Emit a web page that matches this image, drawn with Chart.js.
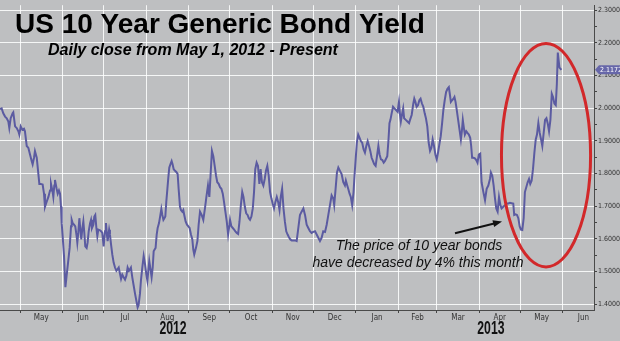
<!DOCTYPE html>
<html>
<head>
<meta charset="utf-8">
<title>US 10 Year Generic Bond Yield</title>
<script src="https://cdn.jsdelivr.net/npm/chart.js@4.4.0/dist/chart.umd.min.js"></script>
<style>
  html, body { margin: 0; padding: 0; background: #bebfc1; }
  canvas { display: block; }
</style>
</head>
<body>
<canvas id="yieldChart" width="620" height="341"></canvas>
<script>
// Calendar days counted from 1 May 2012 (negative = late April)
const dayOffsets = [
  -14.6, -13.4, -12.2, -10.9, -9.7, -8.5, -7.8, -6.8, -5.4, -4.9,
  -3.6, -2.4, -1.2, -0.5, 0.5, 1.7, 2.9, 3.6, 4.9, 6.1,
  7.3, 8.5, 9.2, 10.2, 10.9, 12.2, 13.4, 14.1, 15.1, 16.5,
  17.5, 18.2, 19.4, 20.7, 21.9, 22.6, 23.6, 24.3, 25.0, 25.5,
  26.7, 27.5, 28.4, 29.2, 29.9, 30.4, 31.1, 32.1, 33.1, 34.0,
  35.3, 36.2, 37.2, 37.7, 38.4, 39.4, 40.3, 41.3, 41.8, 42.5,
  43.3, 44.0, 44.7, 45.5, 46.2, 46.9, 47.6, 48.6, 49.3, 50.1,
  51.1, 51.8, 52.5, 53.5, 54.2, 54.9, 55.7, 56.4, 57.1, 58.4,
  59.1, 60.0, 61.0, 62.0, 62.7, 63.5, 63.9, 65.0, 65.6, 66.4,
  67.3, 68.3, 69.3, 70.3, 71.2, 72.0, 72.7, 73.7, 74.6, 75.6,
  76.6, 77.6, 78.5, 79.5, 80.2, 80.9, 81.9, 82.9, 83.9, 84.8,
  85.8, 86.5, 87.5, 88.2, 89.2, 90.2, 91.2, 92.1, 92.9, 93.6,
  94.3, 95.0, 96.0, 96.8, 97.5, 98.2, 98.9, 99.7, 100.4, 101.4,
  102.4, 103.1, 103.8, 104.6, 105.3, 106.0, 106.7, 107.5, 108.2, 108.9,
  109.7, 110.6, 111.3, 112.1, 113.1, 114.3, 115.0, 115.7, 116.7, 117.4,
  118.4, 119.1, 119.8, 120.8, 121.8, 122.8, 123.7, 124.7, 125.7, 126.4,
  127.1, 128.4, 129.4, 130.3, 131.3, 132.5, 133.7, 134.9, 136.1, 137.1,
  138.1, 139.1, 140.0, 141.0, 142.0, 143.0, 143.9, 144.9, 145.9, 146.9,
  147.9, 148.8, 149.8, 150.8, 151.8, 152.8, 153.2, 154.2, 155.2, 156.2,
  157.1, 158.1, 159.1, 160.1, 161.1, 162.1, 163.0, 164.0, 165.0, 166.0,
  166.9, 167.8, 168.8, 169.8, 170.7, 171.6, 172.6, 173.6, 174.6, 175.5,
  176.5, 177.5, 178.5, 179.4, 180.4, 181.4, 182.4, 183.4, 184.3, 185.3,
  186.3, 187.3, 188.3, 189.3, 190.2, 191.2, 192.2, 193.2, 194.2, 195.2,
  196.2, 197.2, 198.2, 199.4, 200.6, 201.8, 203.0, 204.2, 205.4, 206.7,
  207.9, 209.1, 210.3, 211.5, 212.7, 213.9, 215.2, 216.4, 217.6, 218.8,
  220.0, 221.2, 222.5, 223.7, 224.9, 226.1, 227.3, 228.5, 229.2, 230.2,
  231.2, 232.2, 233.4, 234.6, 235.8, 237.0, 237.7, 238.7, 239.4, 240.4,
  241.3, 242.3, 243.3, 244.0, 245.0, 245.7, 246.7, 247.7, 248.6, 249.6,
  250.6, 251.6, 252.6, 253.6, 254.6, 255.5, 256.5, 257.5, 258.4, 259.4,
  260.4, 261.4, 262.3, 263.3, 264.3, 265.3, 266.2, 267.9, 268.8, 269.5,
  270.2, 271.1, 272.1, 273.1, 274.3, 275.4, 276.4, 277.1, 277.8, 278.8,
  279.5, 280.2, 281.4, 282.6, 283.8, 284.5, 285.7, 286.9, 287.6, 288.4,
  289.3, 290.3, 291.3, 292.2, 293.2, 294.2, 295.2, 296.1, 297.1, 298.1,
  299.1, 300.1, 301.0, 302.0, 303.0, 304.0, 304.9, 305.9, 306.9, 307.9,
  308.8, 309.8, 310.8, 311.8, 312.8, 313.5, 314.3, 315.2, 316.2, 316.9,
  317.7, 318.6, 319.6, 320.6, 321.6, 322.3, 323.0, 323.8, 324.5, 325.5,
  326.4, 327.4, 328.4, 329.1, 329.8, 330.8, 331.8, 332.8, 333.7, 334.7,
  335.7, 336.7, 338.0, 339.2, 340.4, 341.6, 342.8, 343.5, 344.5, 345.5,
  346.5, 347.4, 348.4, 349.4, 350.4, 351.3, 352.5, 353.8, 355.0, 356.2,
  357.4, 358.6, 359.8, 360.5, 361.5, 362.5, 363.5, 364.5, 365.4, 366.4,
  367.4, 368.3, 369.3, 370.3, 371.3, 372.2, 373.2, 374.2, 375.2, 376.2,
  377.1, 378.1, 379.1, 380.1, 381.0, 382.0, 383.0, 384.0, 384.9, 385.9,
  386.9, 387.9, 388.8, 389.8, 390.8, 391.6, 392.3, 392.8, 393.5, 394.2,
  394.9
];

// Daily close, percent
const yields = [
  1.997, 1.999, 1.984, 1.974, 1.969, 1.959, 1.939, 1.969, 1.984, 1.987,
  1.944, 1.939, 1.929, 1.919, 1.944, 1.934, 1.937, 1.929, 1.884, 1.878,
  1.858, 1.838, 1.828, 1.848, 1.868, 1.848, 1.798, 1.768, 1.768, 1.766,
  1.738, 1.698, 1.713, 1.728, 1.748, 1.768, 1.748, 1.728, 1.763, 1.780,
  1.753, 1.738, 1.748, 1.738, 1.698, 1.648, 1.608, 1.547, 1.452, 1.487,
  1.537, 1.572, 1.638, 1.658, 1.648, 1.643, 1.638, 1.608, 1.588, 1.618,
  1.663, 1.628, 1.598, 1.633, 1.653, 1.618, 1.577, 1.572, 1.588, 1.623,
  1.648, 1.658, 1.633, 1.643, 1.668, 1.673, 1.633, 1.608, 1.628, 1.626,
  1.623, 1.618, 1.577, 1.623, 1.648, 1.608, 1.593, 1.628, 1.613, 1.583,
  1.552, 1.527, 1.512, 1.502, 1.507, 1.512, 1.497, 1.477, 1.490, 1.482,
  1.475, 1.487, 1.512, 1.502, 1.507, 1.512, 1.482, 1.457, 1.432, 1.412,
  1.390, 1.397, 1.432, 1.472, 1.512, 1.547, 1.522, 1.492, 1.472, 1.502,
  1.532, 1.512, 1.482, 1.512, 1.562, 1.567, 1.572, 1.613, 1.633, 1.648,
  1.673, 1.691, 1.673, 1.658, 1.663, 1.668, 1.713, 1.753, 1.788, 1.818,
  1.828, 1.838, 1.828, 1.813, 1.808, 1.803, 1.798, 1.753, 1.698, 1.688,
  1.683, 1.688, 1.673, 1.653, 1.643, 1.638, 1.633, 1.613, 1.598, 1.567,
  1.552, 1.573, 1.593, 1.643, 1.683, 1.673, 1.658, 1.693, 1.733, 1.763,
  1.728, 1.803, 1.869, 1.853, 1.823, 1.793, 1.773, 1.768, 1.758, 1.753,
  1.738, 1.713, 1.683, 1.653, 1.613, 1.643, 1.658, 1.638, 1.633, 1.628,
  1.623, 1.618, 1.615, 1.653, 1.703, 1.743, 1.728, 1.698, 1.678, 1.673,
  1.663, 1.658, 1.668, 1.693, 1.743, 1.813, 1.833, 1.823, 1.768, 1.813,
  1.773, 1.763, 1.783, 1.808, 1.823, 1.793, 1.743, 1.723, 1.708, 1.693,
  1.713, 1.728, 1.713, 1.688, 1.728, 1.753, 1.693, 1.653, 1.623, 1.613,
  1.605, 1.598, 1.595, 1.595, 1.595, 1.593, 1.633, 1.673, 1.683, 1.693,
  1.673, 1.643, 1.633, 1.623, 1.618, 1.621, 1.623, 1.613, 1.603, 1.593,
  1.603, 1.623, 1.621, 1.643, 1.673, 1.703, 1.733, 1.723, 1.703, 1.753,
  1.803, 1.818, 1.808, 1.798, 1.773, 1.763, 1.778, 1.763, 1.753, 1.738,
  1.728, 1.703, 1.743, 1.793, 1.853, 1.894, 1.919, 1.909, 1.899, 1.894,
  1.874, 1.864, 1.884, 1.899, 1.884, 1.869, 1.848, 1.838, 1.828, 1.823,
  1.853, 1.884, 1.858, 1.843, 1.841, 1.833, 1.838, 1.853, 1.904, 1.954,
  1.964, 1.984, 2.004, 1.999, 1.994, 1.989, 2.019, 1.984, 1.959, 1.984,
  1.999, 1.969, 1.964, 1.959, 1.954, 1.964, 1.979, 2.014, 2.029, 2.019,
  2.004, 2.009, 2.024, 2.029, 2.014, 2.004, 1.984, 1.969, 1.944, 1.894,
  1.869, 1.879, 1.904, 1.884, 1.858, 1.843, 1.863, 1.889, 1.914, 1.954,
  1.994, 2.024, 2.049, 2.059, 2.064, 2.044, 2.019, 2.024, 2.029, 2.034,
  2.019, 1.994, 1.964, 1.934, 1.904, 1.929, 1.964, 1.939, 1.919, 1.929,
  1.924, 1.919, 1.909, 1.884, 1.848, 1.848, 1.846, 1.841, 1.833, 1.858,
  1.861, 1.773, 1.743, 1.718, 1.753, 1.763, 1.783, 1.803, 1.793, 1.763,
  1.723, 1.693, 1.683, 1.728, 1.703, 1.693, 1.698, 1.703, 1.708, 1.708,
  1.710, 1.709, 1.708, 1.673, 1.675, 1.673, 1.663, 1.638, 1.628, 1.627,
  1.663, 1.743, 1.758, 1.773, 1.783, 1.768, 1.778, 1.813, 1.863, 1.904,
  1.919, 1.954, 1.924, 1.904, 1.884, 1.924, 1.964, 1.969, 1.954, 1.929,
  1.964, 2.044, 2.034, 2.014, 2.009, 2.074, 2.170, 2.150, 2.124, 2.121,
  2.1172
];

// Month boundaries (grid lines) and mid-month label positions, same day units
const monthStarts = [0, 31, 61, 92, 123, 153, 184, 214, 245, 276, 304, 335, 365, 396];
const monthMids = [15.5, 46, 76.5, 107.5, 138, 168.5, 199, 229.5, 260.5, 290, 319.5, 350, 380.5, 411];
const monthNames = ['May', 'Jun', 'Jul', 'Aug', 'Sep', 'Oct', 'Nov', 'Dec', 'Jan', 'Feb', 'Mar', 'Apr', 'May', 'Jun'];

const yearLabels = ['2012', '2013'];
const yearCenters = [111.6, 343.5];

const yTickValues = [1.4, 1.5, 1.6, 1.7, 1.8, 1.9, 2.0, 2.1, 2.2, 2.3];

const lastYield = yields[yields.length - 1];

const isMajorY = v => Math.round(v * 100) % 10 === 0;
const isMonthStart = v => monthStarts.includes(v);

const narrowFont = "'Liberation Sans Narrow', 'DejaVu Sans Condensed', 'Liberation Sans', sans-serif";
const mainFont = "'Liberation Sans', Arial, sans-serif";

// Grey panel behind everything
const backgroundPlugin = {
  id: 'panelBackground',
  beforeDraw(chart) {
    const ctx = chart.ctx;
    ctx.save();
    ctx.fillStyle = '#bebfc1';
    ctx.fillRect(0, 0, chart.width, chart.height);
    ctx.restore();
  }
};

// Titles, year labels, annotation, highlight ellipse and last value tag
const overlayPlugin = {
  id: 'overlay',
  afterDraw(chart) {
    const { ctx, chartArea } = chart;
    const xs = chart.scales.x;
    const ys = chart.scales.y;
    ctx.save();

    ctx.fillStyle = '#000';
    ctx.textAlign = 'left';
    ctx.textBaseline = 'alphabetic';
    ctx.font = 'bold 28px ' + mainFont;
    ctx.fillText('US 10 Year Generic Bond Yield', 15, 33);
    ctx.font = 'italic bold 16px ' + mainFont;
    ctx.fillText('Daily close from May 1, 2012 - Present', 48, 55);

    // year labels under the month row
    ctx.fillStyle = '#111';
    ctx.font = 'bold 18px ' + mainFont;
    ctx.textAlign = 'center';
    yearLabels.forEach((label, i) => {
      ctx.save();
      ctx.translate(xs.getPixelForValue(yearCenters[i]), 333.5);
      ctx.scale(0.68, 1);
      ctx.fillText(label, 0, 0);
      ctx.restore();
    });

    // annotation text
    ctx.fillStyle = '#111';
    ctx.font = 'italic 14px ' + mainFont;
    ctx.fillText('The price of 10 year bonds', 419, 250);
    ctx.fillText('have decreased by 4% this month', 418, 267);

    // arrow pointing at the April dip
    const ax0 = xs.getPixelForValue(317.3), ay0 = ys.getPixelForValue(1.617);
    const ax1 = xs.getPixelForValue(351.6), ay1 = ys.getPixelForValue(1.653);
    const ang = Math.atan2(ay1 - ay0, ax1 - ax0);
    ctx.strokeStyle = '#111';
    ctx.lineWidth = 2;
    ctx.beginPath();
    ctx.moveTo(ax0, ay0);
    ctx.lineTo(ax1 - 6 * Math.cos(ang), ay1 - 6 * Math.sin(ang));
    ctx.stroke();
    ctx.fillStyle = '#111';
    ctx.beginPath();
    ctx.moveTo(ax1, ay1);
    ctx.lineTo(ax1 - 9 * Math.cos(ang) + 3.5 * Math.sin(ang), ay1 - 9 * Math.sin(ang) - 3.5 * Math.cos(ang));
    ctx.lineTo(ax1 - 9 * Math.cos(ang) - 3.5 * Math.sin(ang), ay1 - 9 * Math.sin(ang) + 3.5 * Math.cos(ang));
    ctx.closePath();
    ctx.fill();

    // red ellipse around the May 2013 sell-off
    const cx = xs.getPixelForValue(383.7), cy = ys.getPixelForValue(1.856);
    const rx = xs.getPixelForValue(383.7 + 32.5) - cx;
    const ry = cy - ys.getPixelForValue(1.856 + 0.342);
    ctx.strokeStyle = '#d2282a';
    ctx.lineWidth = 3;
    ctx.beginPath();
    ctx.ellipse(cx, cy, rx, ry, 0, 0, Math.PI * 2);
    ctx.stroke();

    // last value tag on the right axis
    const ty = ys.getPixelForValue(lastYield);
    const tx = chartArea.right + 1;
    ctx.fillStyle = '#6767a9';
    ctx.beginPath();
    ctx.moveTo(tx, ty);
    ctx.lineTo(tx + 4, ty - 4.5);
    ctx.lineTo(620, ty - 4.5);
    ctx.lineTo(620, ty + 4.5);
    ctx.lineTo(tx + 4, ty + 4.5);
    ctx.closePath();
    ctx.fill();
    ctx.fillStyle = '#fff';
    ctx.font = '7px ' + narrowFont;
    ctx.textAlign = 'left';
    ctx.textBaseline = 'middle';
    ctx.fillText(lastYield.toFixed(4), tx + 5, ty + 0.5);

    ctx.restore();
  }
};

const points = dayOffsets.map((d, i) => ({ x: d, y: yields[i] }));

new Chart(document.getElementById('yieldChart'), {
  type: 'line',
  data: {
    datasets: [{
      label: 'USGG10YR',
      data: points,
      borderColor: '#5b5ba1',
      borderWidth: 2,
      pointRadius: 0,
      tension: 0,
      fill: false
    }]
  },
  options: {
    responsive: false,
    animation: false,
    devicePixelRatio: 1,
    layout: { padding: 0 },
    plugins: {
      legend: { display: false },
      tooltip: { enabled: false }
    },
    scales: {
      x: {
        type: 'linear',
        position: 'bottom',
        min: -14.6,
        max: 418.7,
        afterBuildTicks: scale => {
          scale.ticks = monthStarts.concat(monthMids)
            .sort((a, b) => a - b)
            .map(v => ({ value: v }));
        },
        afterFit: scale => { scale.height = 31; },
        grid: {
          color: c => isMonthStart(c.tick.value) ? 'rgba(255,255,255,0.85)' : 'rgba(0,0,0,0)',
          tickColor: c => isMonthStart(c.tick.value) ? '#444' : 'rgba(0,0,0,0)',
          lineWidth: 1,
          tickLength: 3
        },
        border: { display: true, color: '#4a4a4a', width: 1 },
        ticks: {
          autoSkip: false,
          maxRotation: 0,
          padding: 0,
          color: '#333',
          font: { size: 8, family: narrowFont },
          callback: value => {
            const i = monthMids.indexOf(value);
            return i >= 0 ? monthNames[i] : '';
          }
        }
      },
      y: {
        position: 'right',
        min: 1.382,
        max: 2.315,
        afterBuildTicks: scale => {
          const t = [];
          yTickValues.forEach((v, i) => {
            t.push({ value: v });
            if (i < yTickValues.length - 1) t.push({ value: +(v + 0.05).toFixed(2) });
          });
          scale.ticks = t;
        },
        afterFit: scale => { scale.width = 26; },
        grid: {
          color: c => isMajorY(c.tick.value) ? 'rgba(255,255,255,0.85)' : 'rgba(0,0,0,0)',
          tickColor: '#444',
          lineWidth: 1,
          tickLength: 3
        },
        border: { display: true, color: '#4a4a4a', width: 1 },
        ticks: {
          autoSkip: false,
          padding: 1,
          color: '#333',
          font: { size: 7, family: narrowFont },
          callback: value => isMajorY(value) ? value.toFixed(4) : ''
        }
      }
    }
  },
  plugins: [backgroundPlugin, overlayPlugin]
});
</script>
</body>
</html>
